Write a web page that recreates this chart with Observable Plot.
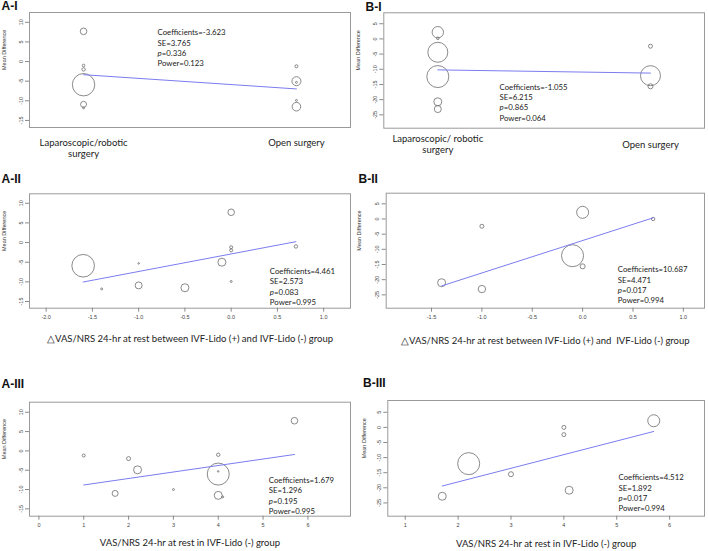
<!DOCTYPE html>
<html><head><meta charset="utf-8">
<script src="https://cdn.jsdelivr.net/npm/d3@7"></script>
<script src="https://cdn.jsdelivr.net/npm/@observablehq/plot@0.6"></script>
<style>
html,body{margin:0;padding:0;background:#fff;}
#fig{position:relative;width:708px;height:551px;overflow:hidden;background:#fff;}
#fig svg{position:absolute;}
</style></head><body><div id="fig"></div>
<script>
// ---------- values ----------
const panelIds = ["A-I", "B-I", "A-II", "B-II", "A-III", "B-III"];
const coefficients = [-3.623, -1.055, 4.461, 10.687, 1.679, 4.512];
const standardErrors = [3.765, 6.215, 2.573, 4.471, 1.296, 1.892];
const pValues = [0.336, 0.865, 0.083, 0.017, 0.195, 0.017];
const powers = [0.123, 0.064, 0.995, 0.994, 0.995, 0.994];
const intercepts = [-3.35, -10.2, -2.9, -7.1, -10.5, -27.07];

const surgeryLabelsA = ["Laparoscopic/robotic\nsurgery", "Open surgery"];
const surgeryLabelsB = ["Laparoscopic/ robotic\nsurgery", "Open surgery"];
const xTitleA2 = "\u25B3VAS/NRS 24-hr at rest between IVF-Lido (+) and IVF-Lido (-) group";
const xTitleB2 = "\u25B3VAS/NRS 24-hr at rest between IVF-Lido (+) and\u00A0 IVF-Lido (-) group";
const xTitle3 = "VAS/NRS 24-hr at rest in IVF-Lido (-) group";
const yTitle = "Mean Difference";

const yTicksA = [-15, -10, -5, 0, 5, 10];
const yTicksB = [-25, -20, -15, -10, -5, 0, 5];
const xTicksA2 = [-2.0, -1.5, -1.0, -0.5, 0.0, 0.5, 1.0];
const xTicksB2 = [-1.5, -1.0, -0.5, 0.0, 0.5, 1.0];
const xTicksA3 = [0, 1, 2, 3, 4, 5, 6];
const xTicksB3 = [1, 2, 3, 4, 5, 6];

// A-I (0 = laparoscopic/robotic, 1 = open surgery)
const aI_group = [0, 0, 0, 0, 0, 0, 1, 1, 1, 1, 1];
const aI_md = [7.7, -1.0, -2.0, -5.9, -10.9, -11.8, -1.2, -5.0, -5.3, -9.9, -11.5];
const aI_weight = [9.0, 1.4, 2.4, 103.7, 7.4, 0.8, 1.9, 16.7, 0.8, 0.8, 15.3];
// B-I
const bI_group = [0, 0, 0, 0, 0, 0, 1, 1, 1];
const bI_md = [2.2, 0.2, -4.4, -12.4, -20.7, -23.1, -2.4, -12.1, -15.6];
const bI_weight = [26.9, 1.4, 82.6, 100, 13.2, 10.1, 3.3, 82.6, 5.2];
// A-II
const aII_dvas = [-1.6, -1.4, -1.0, -1.0, -0.5, -0.1, 0.0, 0.0, 0.0, 0.0, 0.7];
const aII_md = [-5.9, -11.8, -5.3, -10.9, -11.5, -5.0, 7.7, -1.2, -2.0, -9.9, -1.0];
const aII_weight = [105.5, 0.8, 0.5, 10.1, 13.2, 13.2, 9.0, 1.9, 1.9, 0.8, 2.4];
// B-II
const bII_dvas = [-1.4, -1.0, -1.0, -0.1, 0.0, 0.0, 0.7];
const bII_md = [-21.0, -2.4, -23.1, -12.1, 2.2, -15.6, 0.0];
const bII_weight = [13.2, 3.3, 11.3, 100, 29.8, 5.2, 2.4];
// A-III
const aIII_vas = [1.0, 1.7, 2.0, 2.2, 3.0, 4.0, 4.0, 4.0, 4.0, 4.1, 5.7];
const aIII_md = [-1.2, -11.0, -2.0, -4.9, -10.0, -1.0, -6.0, -5.3, -11.5, -11.9, 7.8];
const aIII_weight = [1.9, 7.4, 3.3, 13.2, 0.8, 2.4, 100, 0.5, 13.2, 0.8, 9.0];
// B-III
const bIII_vas = [1.7, 2.2, 3.0, 4.0, 4.0, 4.1, 5.7];
const bIII_md = [-22.8, -12.0, -15.5, 0.0, -2.4, -20.8, 2.2];
const bIII_weight = [13.2, 100, 5.2, 3.3, 3.3, 13.2, 29.8];

// ---------- layout ----------
const fig = document.getElementById("fig");
const TXT = "Lato, 'Open Sans', sans-serif";
const LINE = "#7c7cf0";

function panel(cfg) {
  const i = cfg.i;
  const data = cfg.x.map((v, k) => ({x: v, y: cfg.y[k], w: cfg.w[k]}));
  const ext = d3.extent(cfg.x);
  const fit = ext.map(v => ({x: v, y: intercepts[i] + coefficients[i] * v}));
  const [L, T, W, H] = cfg.box;
  const [fl, ft, fr, fb] = cfg.frame;
  const marks = [
    Plot.frame({stroke: "#9a9a9a"}),
    Plot.axisY({ticks: cfg.yTicks, tickSize: 4, tickPadding: 3, tickRotate: -90, tickFormat: d => String(d),
      stroke: "#8a8a8a", fill: "#444", fontSize: 5.5, label: null}),
    Plot.text([yTitle], {frameAnchor: "left", dx: cfg.yTitleDx, rotate: -90, fontSize: 5.5, fill: "#333"}),
    Plot.dot(data, {x: "x", y: "y", r: "w", stroke: "#6c6c6c", strokeWidth: 0.8, fill: "none"}),
    Plot.line(fit, {x: "x", y: "y", stroke: LINE, strokeWidth: 1})
  ];
  if (cfg.categories) {
    marks.push(Plot.axisX({ticks: [0, 1], tickFormat: k => cfg.categories[k], tickSize: 0,
      tickPadding: cfg.catPad, lineAnchor: cfg.catAnchor, lineHeight: 1.15,
      fontSize: 9.5, fontFamily: TXT, fill: "#222", label: null}));
  } else {
    marks.push(Plot.axisX({ticks: cfg.xTicks, tickSize: 4, tickPadding: 3, tickFormat: cfg.xTickFormat,
      stroke: "#8a8a8a", fill: "#444", fontSize: 5.5, label: null}));
    marks.push(Plot.text([cfg.xTitle], {frameAnchor: "bottom", dy: cfg.xTitleDy, fontSize: 9.5,
      fontFamily: TXT, fill: "#222"}));
  }
  const [ax, ay] = cfg.annot, lh = 10.3;
  const tOpts = (dx, dy) => ({frameAnchor: "top-left", dx, dy, textAnchor: "start", lineAnchor: "middle",
    fontSize: 7.8, fontFamily: TXT, fill: "#222"});
  marks.push(Plot.text([`Coefficients=${coefficients[i].toFixed(3)}`], tOpts(ax, ay)));
  marks.push(Plot.text([`SE=${standardErrors[i].toFixed(3)}`], tOpts(ax, ay + lh)));
  marks.push(Plot.text(["p"], {...tOpts(ax, ay + 2 * lh), fontStyle: "italic"}));
  marks.push(Plot.text([`=${pValues[i].toFixed(3)}`], tOpts(ax + 4.3, ay + 2 * lh)));
  marks.push(Plot.text([`Power=${powers[i].toFixed(3)}`], tOpts(ax, ay + 3 * lh)));

  const svg = Plot.plot({
    width: W, height: H,
    marginLeft: fl - L, marginTop: ft - T, marginRight: L + W - fr, marginBottom: T + H - fb,
    x: {domain: cfg.xDomain},
    y: {domain: cfg.yDomain},
    r: {type: "sqrt", domain: [0, 100], range: [0, 11]},
    style: {background: "transparent", fontFamily: "'Liberation Sans', Arial, sans-serif", fontSize: "5.5px",
      color: "#333", overflow: "visible"},
    marks
  });
  svg.style.left = L + "px";
  svg.style.top = T + "px";
  fig.appendChild(svg);
}

const f1 = d => d.toFixed(1);
const f0 = d => String(d);

panel({i: 0, x: aI_group, y: aI_md, w: aI_weight, box: [0, 0, 354, 165], frame: [29, 12, 350, 127],
  xDomain: [-0.254, 1.254], yDomain: [-16.8, 12.5], yTicks: yTicksA, yTitleDx: -25.5,
  categories: surgeryLabelsA, catAnchor: "top", catPad: 11, annot: [128, 20.3]});
panel({i: 1, x: bI_group, y: bI_md, w: bI_weight, box: [354, 0, 354, 165], frame: [383.3, 12.3, 704, 127.7],
  xDomain: [-0.254, 1.254], yDomain: [-29.4, 8.6], yTicks: yTicksB, yTitleDx: -26,
  categories: surgeryLabelsB, catAnchor: "middle", catPad: 15.8, annot: [115.7, 74.4]});
panel({i: 2, x: aII_dvas, y: aII_md, w: aII_weight, box: [0, 170, 354, 185], frame: [29, 193.3, 350, 307.7],
  xDomain: [-2.18, 1.29], yDomain: [-16.7, 12.4], yTicks: yTicksA, yTitleDx: -25.5,
  xTicks: xTicksA2, xTickFormat: f1, xTitle: xTitleA2, xTitleDy: 33.8, annot: [240.3, 77.7]});
panel({i: 3, x: bII_dvas, y: bII_md, w: bII_weight, box: [354, 170, 354, 185], frame: [385.7, 192.7, 704, 307.7],
  xDomain: [-1.95, 1.21], yDomain: [-29.4, 8.5], yTicks: yTicksB, yTitleDx: -26.7,
  xTicks: xTicksB2, xTickFormat: f1, xTitle: xTitleB2, xTitleDy: 35.3, annot: [231.6, 76.6]});
panel({i: 4, x: aIII_vas, y: aIII_md, w: aIII_weight, box: [0, 360, 354, 191], frame: [29, 401.7, 350, 515.7],
  xDomain: [-0.21, 6.95], yDomain: [-16.9, 12.6], yTicks: yTicksA, yTitleDx: -25.5,
  xTicks: xTicksA3, xTickFormat: f0, xTitle: xTitle3, xTitleDy: 29.8, annot: [239.3, 78.3]});
panel({i: 5, x: bIII_vas, y: bIII_md, w: bIII_weight, box: [354, 360, 354, 191], frame: [387.3, 400, 704, 515.7],
  xDomain: [0.67, 6.66], yDomain: [-29.4, 8.9], yTicks: yTicksB, yTitleDx: -24,
  xTicks: xTicksB3, xTickFormat: f0, xTitle: xTitle3, xTitleDy: 30.3, annot: [230.7, 77.3]});

// panel letters
const labelPos = [[1.5, 9.8], [365.5, 11], [1.5, 183], [358.5, 183], [1.5, 388], [363, 387]];
const overlay = d3.select(fig).append("svg").attr("width", 708).attr("height", 551)
  .style("left", "0px").style("top", "0px").style("pointer-events", "none");
overlay.selectAll("text").data(panelIds).join("text")
  .attr("x", (d, k) => labelPos[k][0]).attr("y", (d, k) => labelPos[k][1])
  .attr("font-family", "'Liberation Sans', Arial, sans-serif").attr("font-weight", "bold")
  .attr("font-size", 12).attr("fill", "#111").text(d => d);
</script></body></html>
